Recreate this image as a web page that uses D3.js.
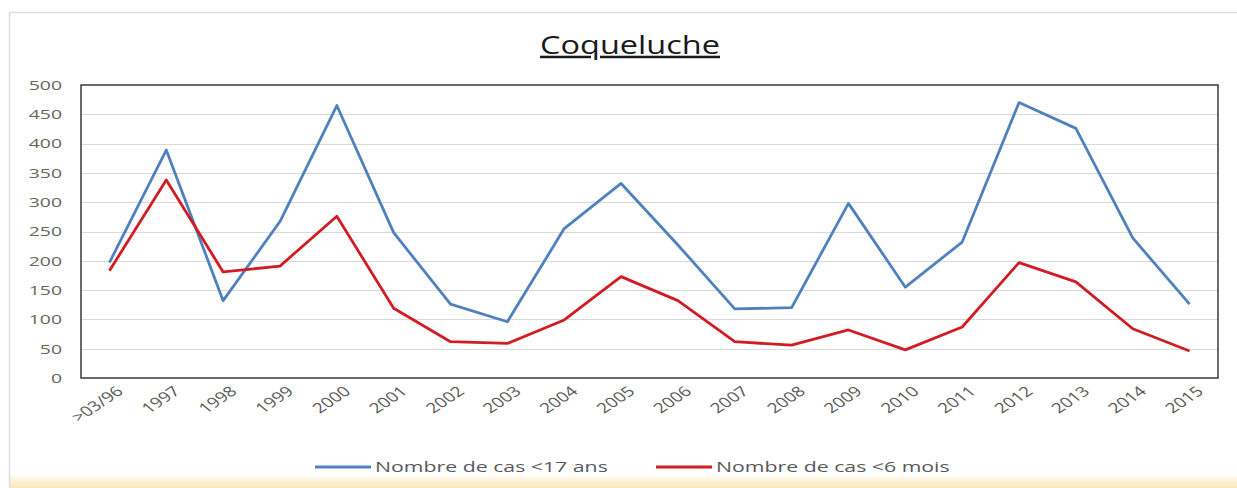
<!DOCTYPE html>
<html>
<head>
<meta charset="utf-8">
<script src="https://cdn.jsdelivr.net/npm/d3@7"></script>
<style>
  html, body { margin: 0; padding: 0; background: #ffffff; }
  svg { display: block; }
  text { font-family: "Open Sans", "DejaVu Sans", sans-serif; }
</style>
</head>
<body>
<svg id="chart" width="1237" height="488"></svg>
<script>
// ---- data ----
const categories = [">03/96","1997","1998","1999","2000","2001","2002","2003","2004","2005",
                    "2006","2007","2008","2009","2010","2011","2012","2013","2014","2015"];
const cases17ans = [197,389,132,267,465,248,126,96,255,332,227,118,120,298,155,232,470,426,239,126];
const cases6mois = [183,338,181,191,276,119,62,59,99,173,132,62,56,82,48,87,197,164,84,46];
const yTicks = [0,50,100,150,200,250,300,350,400,450,500];
const titleText = "Coqueluche";
const seriesNames = ["Nombre de cas <17 ans","Nombre de cas <6 mois"];
const seriesColors = ["#4f81bd","#d01c22"];

// ---- layout ----
const W = 1237, H = 488;
const plot = {left: 81, right: 1218, top: 85, bottom: 378};
const SX = 1.55; // horizontal stretch of glyphs seen in the reference

const svg = d3.select("#chart");

// background band and frame
const defs = svg.append("defs");
const grad = defs.append("linearGradient").attr("id","band").attr("x1",0).attr("y1",0).attr("x2",0).attr("y2",1);
grad.append("stop").attr("offset","0%").attr("stop-color","#fefaf0");
grad.append("stop").attr("offset","100%").attr("stop-color","#fbe6b8");
svg.append("rect").attr("x",10).attr("y",476).attr("width",W-10).attr("height",H-476).attr("fill","url(#band)");
svg.append("line").attr("x1",9.5).attr("x2",9.5).attr("y1",12).attr("y2",488).attr("stroke","#dcdcdc").attr("stroke-width",1.5);
svg.append("line").attr("x1",9.5).attr("x2",W).attr("y1",12.5).attr("y2",12.5).attr("stroke","#dcdcdc").attr("stroke-width",1.5);

// scales
const x = d3.scalePoint().domain(categories).range([plot.left, plot.right]).padding(0.5);
const y = d3.scaleLinear().domain([0,500]).range([plot.bottom, plot.top]);

// gridlines
svg.append("g").selectAll("line").data(yTicks.filter(d => d > 0 && d < 500)).join("line")
  .attr("x1", plot.left).attr("x2", plot.right)
  .attr("y1", d => Math.round(y(d)) + 0.5).attr("y2", d => Math.round(y(d)) + 0.5)
  .attr("stroke","#d9d9d9").attr("stroke-width",1.2);

// y axis
const yAxis = svg.append("g").attr("transform", `translate(${plot.left},0)`)
  .call(d3.axisLeft(y).tickValues(yTicks).tickSize(0).tickFormat(d3.format("d")));
yAxis.select(".domain").remove();
yAxis.selectAll("text")
  .attr("x", 0).attr("dy", "0.35em")
  .attr("transform", `translate(-19,0) scale(${SX},1)`)
  .attr("font-size", 12.5).attr("fill", "#66665a")
  .attr("font-family", "'Open Sans', sans-serif");

// x axis
const xAxis = svg.append("g").attr("transform", `translate(0,${plot.bottom})`)
  .call(d3.axisBottom(x).tickSize(0));
xAxis.select(".domain").remove();
xAxis.selectAll("text")
  .attr("x", 0).attr("y", 0).attr("dy", "0.35em")
  .attr("text-anchor", "end")
  .attr("transform", `translate(10,11) scale(1.35,1) rotate(-42)`)
  .attr("font-size", 14).attr("fill", "#595959")
  .attr("font-family", "'Open Sans', sans-serif");

// lines
const line = d3.line().x((d,i) => x(categories[i])).y(d => y(d));
[cases17ans, cases6mois].forEach((s, k) => {
  svg.append("path").datum(s)
    .attr("d", line)
    .attr("fill","none")
    .attr("stroke", seriesColors[k])
    .attr("stroke-width", 2.8)
    .attr("stroke-linejoin","round");
});

// plot border
svg.append("rect")
  .attr("x", plot.left).attr("y", plot.top)
  .attr("width", plot.right - plot.left).attr("height", plot.bottom - plot.top)
  .attr("fill","none").attr("stroke","#3a3a3a").attr("stroke-width",1.5);

// title
const title = svg.append("text")
  .attr("font-size", 25).attr("fill", "#1a1a1a")
  .attr("text-anchor","middle")
  .style("text-decoration","underline")
  .text(titleText);
const tw = title.node().getComputedTextLength();
title.attr("transform", `translate(630,54) scale(${180/tw},1)`);

// legend
const legendX = [315, 656];
const legendY = 467;
seriesNames.forEach((name, k) => {
  const g = svg.append("g");
  g.append("line").attr("x1", legendX[k]).attr("x2", legendX[k] + 56)
    .attr("y1", legendY).attr("y2", legendY)
    .attr("stroke", seriesColors[k]).attr("stroke-width", 2.8);
  g.append("text")
    .attr("transform", `translate(${legendX[k] + 60},${legendY}) scale(1.52,1)`)
    .attr("dy","0.35em")
    .attr("font-size", 14).attr("fill","#595959")
    .text(name);
});
</script>
</body>
</html>
